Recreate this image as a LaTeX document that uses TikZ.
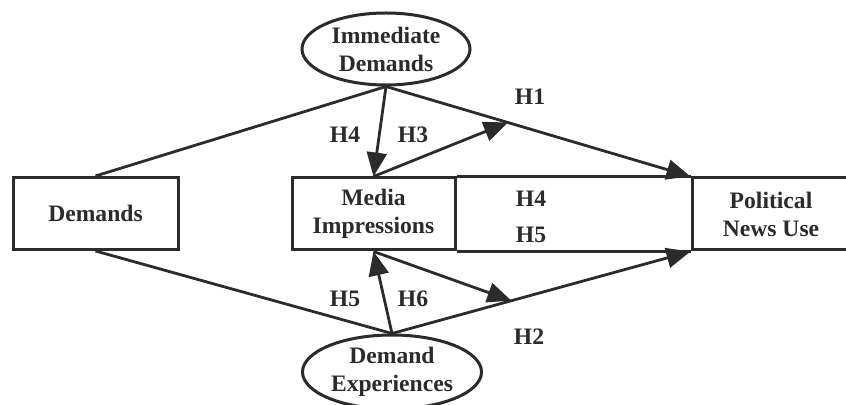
\documentclass[tikz,border=0pt]{standalone}
\usepackage{fontspec}
\setmainfont{Liberation Serif}
\usetikzlibrary{shapes.geometric,arrows.meta,calc}
\definecolor{ink}{HTML}{2B2B2B}
\tikzset{
  box/.style={draw=ink, rectangle, line width=1.5pt, minimum height=36pt, inner sep=0pt, align=center},
  oval/.style={draw=ink, ellipse, line width=1.5pt, inner sep=0pt},
  link/.style={draw=ink, line width=1.4pt},
}

\begin{document}
\begin{tikzpicture}[x=0.5pt,y=-0.5pt, >={Triangle[length=12pt,width=10pt]},
    every node/.style={text=ink, font=\fontsize{11.8}{14}\selectfont\bfseries}]
            \useasboundingbox (0,0) rectangle (846,405);
            % boxes
            \node[box, minimum width=82.5pt] (dem) at (95.5,213.5) {Demands};
            \node[box, minimum width=81.5pt] (med) at (373.5,214) {Media\\Impressions};
            \node[box, minimum width=79pt] (pol) at (771,214) {Political\\News Use};
            % ovals
            \node[oval, minimum width=84pt, minimum height=36pt,
                label={[align=center]center:Immediate\\Demands}] (imm) at (386,49) {};
            \node[oval, minimum width=89.5pt, minimum height=37pt,
                label={[align=center]center:Demand\\Experiences}] (exp) at (392,372) {};
            % paths
            \draw[link] (dem.north) -- (imm.south);
            \draw[link] (dem.south) -- (exp.north);
            \draw[link,->] (imm.south) -- (med.north);
            \draw[link,->] (imm.south) -- (pol.north west);
            \coordinate (m1) at ($(imm.south)!0.4!(pol.north west)$);
            \draw[link,->] (med.north) -- (m1);
            \draw[link] (med.north east) -- (pol.north west);
            \draw[link] (med.south east) -- (pol.south west);
            \draw[link,->] (exp.north) -- (med.south);
            \draw[link,->] (exp.north) -- (pol.south west);
            \coordinate (m2) at ($(exp.north)!0.4!(pol.south west)$);
            \draw[link,->] (med.south) -- (m2);
            % hypotheses
            \node (h1) at (530,97) {H1};
            \node (h4a) at (345,135) {H4};
            \node (h3) at (413,135) {H3};
            \node (h4b) at (531,199) {H4};
            \node (h5b) at (531,235) {H5};
            \node (h5a) at (345,299) {H5};
            \node (h6) at (413,299) {H6};
            \node (h2) at (529,337) {H2};
        \end{tikzpicture}
\end{document}
